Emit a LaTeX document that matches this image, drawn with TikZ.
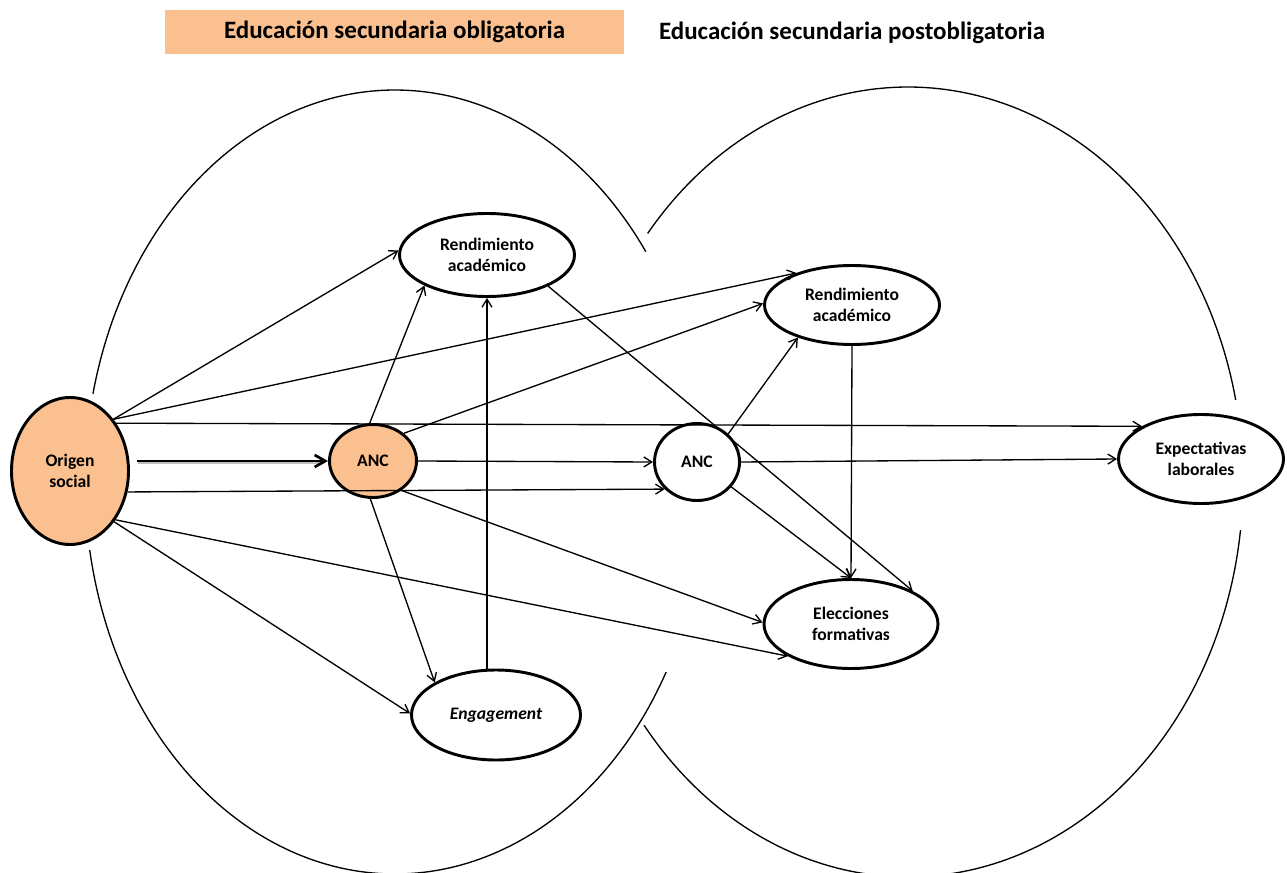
\documentclass[tikz,border=0pt]{standalone}
\usepackage{fontspec}
\setmainfont{Carlito}
\usetikzlibrary{arrows.meta,shapes.geometric,calc}
\definecolor{orfill}{HTML}{FAC090}
\begin{document}
\begin{tikzpicture}[x=0.75pt,y=-0.75pt,
  box/.style={ellipse, draw, line width=2.2pt, inner sep=0pt, align=center,
    font=\fontsize{13.2}{15.5}\selectfont\bfseries},
  arr/.style={line width=1pt, -{Straight Barb[length=6pt,width=7.5pt]}},
  thickarr/.style={line width=2pt, -{Straight Barb[length=8pt,width=9pt]}},
  big/.style={line width=1pt},
  ttl/.style={inner sep=0pt, font=\fontsize{18.75}{22}\selectfont\bfseries}]

\useasboundingbox (0,0) rectangle (1287,873);

% titles
\node[ttl, fill=orfill, minimum width=344.25pt, minimum height=33pt] (t1) at (394.5,32) {Educación secundaria obligatoria};
\node[ttl] (t2) at (852,33) {Educación secundaria postobligatoria};

% big ellipses
\begin{scope}
\clip (0,0) rectangle (1287,873);
\draw[big] plot[domain=193:324, samples=120] ({395+310*cos(\x)}, {482+392*sin(\x)});
\draw[big] plot[domain=29:170, samples=120] ({395+310*cos(\x)}, {482+392*sin(\x)});
\draw[big] plot[domain=219:348, samples=120] ({908+335*cos(\x)}, {482+395*sin(\x)});
\draw[big] plot[domain=7:142, samples=120] ({908+335*cos(\x)}, {482+395*sin(\x)});
\end{scope}

% nodes
\node[box, fill=orfill, minimum width=87.75pt, minimum height=110.25pt] (orig) at (70,471) {Origen\\social};
\node[box, fill=orfill, minimum width=65.25pt, minimum height=54.75pt] (ancL) at (373,461) {ANC};
\node[box, fill=white, minimum width=131.25pt, minimum height=62.25pt] (rendL) at (487,255) {Rendimiento\\académico};
\node[box, fill=white, minimum width=131.25pt, minimum height=59.25pt] (rendR) at (852,305) {Rendimiento\\académico};
\node[box, fill=white, minimum width=63.75pt, minimum height=57.75pt] (ancR) at (697,462) {ANC};
\node[box, fill=white, minimum width=123.75pt, minimum height=66.75pt] (exp) at (1201,459) {Expectativas\\laborales};
\node[box, fill=white, minimum width=130.5pt, minimum height=66.75pt] (elec) at (851,624) {Elecciones\\formativas};
\node[box, fill=white, minimum width=126.75pt, minimum height=67.5pt] (eng) at (496,715) {\itshape Engagement};

% connectors
\draw[arr] (orig.50) -- (rendL.177);
\draw[arr] (orig.50) -- (rendR.150);
\draw[arr] (orig.46) -- (exp.151);
\draw[black!25, line width=2pt, shorten <=5pt, shorten >=4pt, transform canvas={xshift=1pt, yshift=-1.5pt}] (ancL.west -| orig.east) -- (ancL.west);
\draw[thickarr, shorten <=5pt] (ancL.west -| orig.east) -- (ancL.west);
\draw[arr] (orig.-20) -- (ancR.220);
\draw[arr] (orig.-47) -- (elec.207);
\draw[arr] (orig.-49) -- (eng.179);
\draw[arr] (ancL.95) -- (rendL.206);
\draw[arr] (ancL.42) -- (rendR.179);
\draw[arr] (ancL.east) -- (ancR.west);
\draw[arr] (ancL.-46) -- (elec.179);
\draw[arr] (ancL.-94) -- (eng.152);
\draw[arr] (rendL.south |- eng.north) -- (rendL.south);
\draw[arr] (rendL.-27) -- (elec.28);
\draw[arr] (ancR.42) -- (rendR.211);
\draw[arr] (ancR.east) -- (exp.west);
\draw[arr] (ancR.-36) -- (elec.north);
\draw[arr] (rendR.south) -- (elec.north);
\end{tikzpicture}
\end{document}
